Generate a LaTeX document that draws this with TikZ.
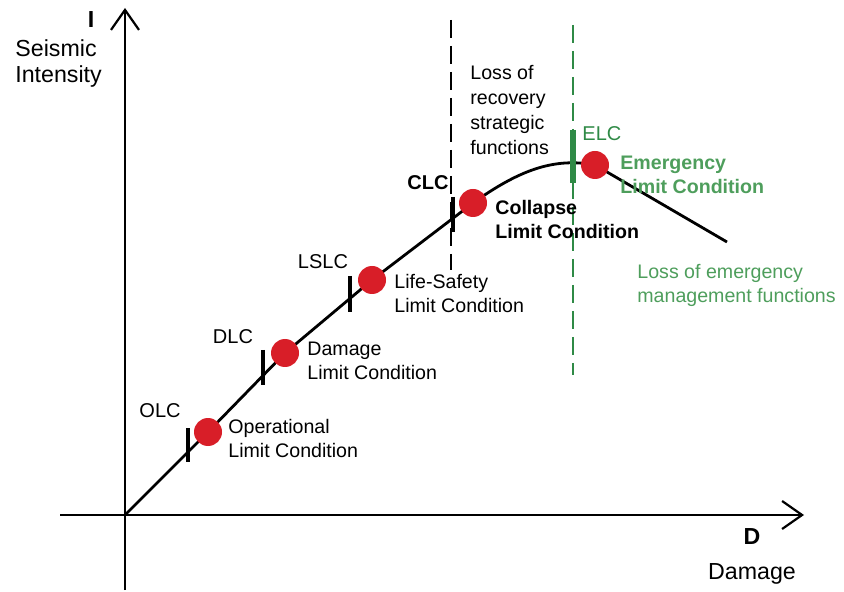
\documentclass[tikz,border=0pt]{standalone}
\usepackage{fontspec}
\setmainfont{Liberation Sans}
\usetikzlibrary{arrows.meta, positioning}
\definecolor{dotred}{HTML}{D81E28}
\definecolor{elcgreen}{HTML}{2F8A46}
\definecolor{txtgreen}{HTML}{4E9E5C}

\begin{document}
\begin{tikzpicture}[
    x=0.5pt, y=-0.5pt,
    axis/.style={line width=1.1pt, -{Straight Barb[length=10pt, width=14pt, line width=1.1pt]}},
    curve/.style={line width=1.4pt},
    tickmark/.style={line width=2.2pt},
    dot/.style={circle, fill=dotred, minimum size=14pt, inner sep=0pt},
    limit/.style={font=\fontsize{9.8}{12}\selectfont, align=left, anchor=west, inner sep=0pt},
    short/.style={font=\fontsize{10}{12}\selectfont, inner sep=0pt},
    axislabel/.style={font=\fontsize{11.6}{13}\selectfont, align=left, inner sep=0pt},
    border/.style={line width=0.9pt, dash pattern=on 9pt off 4pt}
  ]
    \useasboundingbox (0,0) rectangle (844,592);

    % ── Axes ──────────────────────────────────────────────────────────────
    \coordinate (y_bot) at (125,590);
    \coordinate (y_top) at (125,8);
    \coordinate (x_left) at (60,515);
    \coordinate (x_right) at (804,515);
    \draw[axis] (y_bot) -- (y_top);
    \draw[axis] (x_left) -- (x_right);

    \node[axislabel, font=\fontsize{11.6}{13}\selectfont\bfseries] (lbl_i) at (91,20) {I};
    \node[axislabel, anchor=west] (lbl_si) at (15,64) {Seismic\\Intensity};
    \node[axislabel, font=\fontsize{11.6}{13}\selectfont\bfseries] (lbl_d) at (752,537) {D};
    \node[axislabel] (lbl_dmg) at (752,574) {Damage};

    % ── Limit-state thresholds ────────────────────────────────────────────
    \coordinate (clc_top) at (451,20);
    \coordinate (clc_bot) at (451,270);
    \coordinate (elc_top) at (573,25);
    \coordinate (elc_bot) at (573,375);
    \draw[border] (clc_top) -- (clc_bot);
    \draw[border, draw=elcgreen] (elc_top) -- (elc_bot);

    % ── Capacity curve ────────────────────────────────────────────────────
    \coordinate (origin) at (125,515);
    \coordinate (p_olc)  at (208,432);
    \coordinate (p_dlc)  at (285,353);
    \coordinate (p_lslc) at (372,280);
    \coordinate (p_clc)  at (473,203);
    \coordinate (p_elc)  at (595,165);
    \coordinate (p_end)  at (727,242);
    \draw[curve] (origin) -- (p_olc) -- (p_dlc) -- (p_lslc) -- (p_clc)
      .. controls (518,171) and (553,157) .. (p_elc) -- (p_end);

    % ── Tick marks ────────────────────────────────────────────────────────
    \draw[tickmark] (188,428) -- (188,462);
    \draw[tickmark] (263,350) -- (263,385);
    \draw[tickmark] (350,276) -- (350,312);
    \draw[tickmark] (453,197) -- (453,232);
    \draw[tickmark, draw=elcgreen, line width=3pt] (573,130) -- (573,183);

    % ── Limit condition dots ──────────────────────────────────────────────
    \node[dot] (olc)  at (p_olc)  {};
    \node[dot] (dlc)  at (p_dlc)  {};
    \node[dot] (lslc) at (p_lslc) {};
    \node[dot] (clc)  at (p_clc)  {};
    \node[dot] (elc)  at (p_elc)  {};

    % ── Labels ────────────────────────────────────────────────────────────
    \node[short] (t_olc)  at (160,411) {OLC};
    \node[limit] (d_olc)  at (228,438) {Operational\\Limit Condition};
    \node[short] (t_dlc)  at (233,337) {DLC};
    \node[limit] (d_dlc)  at (307,361) {Damage\\Limit Condition};
    \node[short] (t_lslc) at (323,262) {LSLC};
    \node[limit] (d_lslc) at (394,293) {Life-Safety\\Limit Condition};
    \node[short, font=\fontsize{10}{12}\selectfont\bfseries] (t_clc) at (428,183) {CLC};
    \node[limit, font=\fontsize{9.8}{12}\selectfont\bfseries] (d_clc) at (495,219) {Collapse\\Limit Condition};
    \node[limit, font=\fontsize{9.8}{12.4}\selectfont] (loss_rec) at (470,110) {Loss of\\recovery\\strategic\\functions};
    \node[limit, text=elcgreen, font=\fontsize{10}{12}\selectfont] (t_elc) at (582,134) {ELC};
    \node[limit, text=txtgreen, font=\fontsize{9.8}{12}\selectfont\bfseries] (d_elc) at (620,175) {Emergency\\Limit Condition};
    \node[limit, text=txtgreen] (loss_em) at (637,285) {Loss of emergency\\management functions};

  \end{tikzpicture}
\end{document}
